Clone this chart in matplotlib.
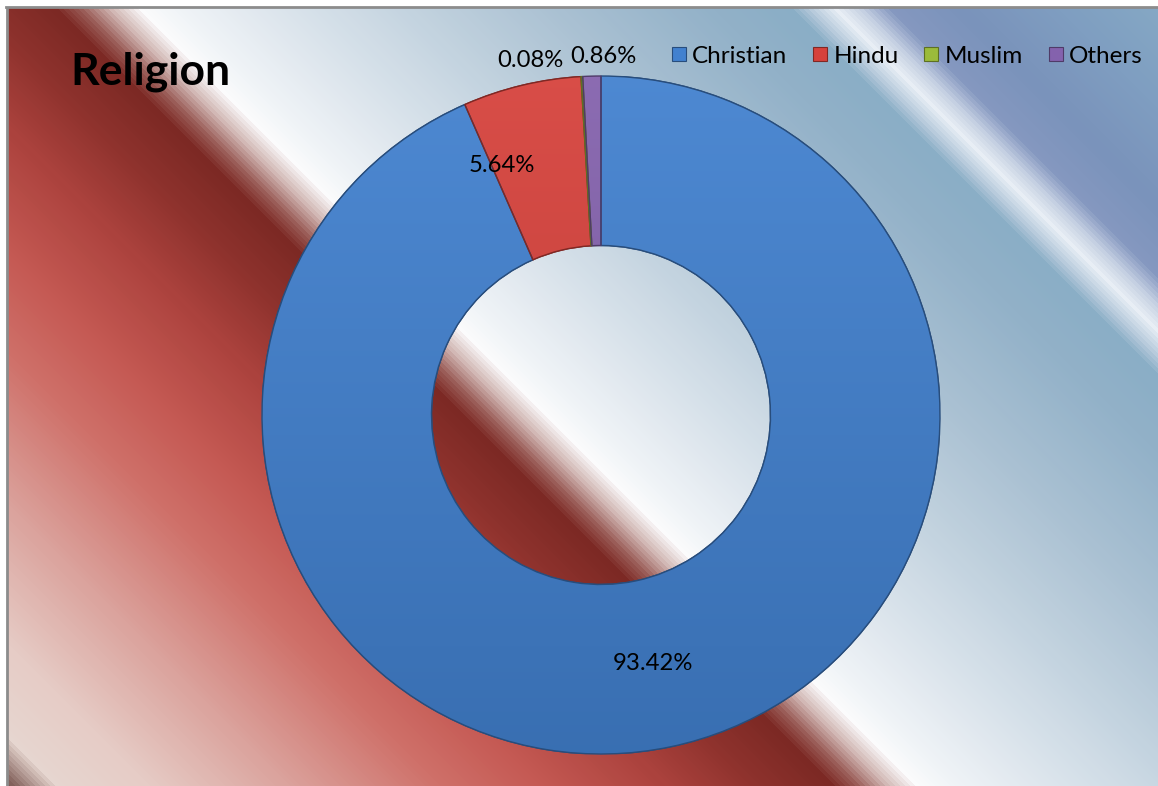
import numpy as np
import matplotlib
matplotlib.use("Agg")
import matplotlib.pyplot as plt
from matplotlib.colors import to_rgb
from matplotlib.lines import Line2D
from matplotlib.patches import Wedge

# ---- data ----
categories = ["Christian", "Hindu", "Muslim", "Others"]
values = [93.42, 5.64, 0.08, 0.86]
labels = ["93.42%", "5.64%", "0.08%", "0.86%"]
colors = ["#4281cf", "#d6423c", "#9bbb3b", "#8462ad"]
title = "Religion"

W, H = 1158, 786
fig = plt.figure(figsize=(W / 100, H / 100), dpi=100)
fig.patch.set_facecolor("white")

# ---- background gradient (diagonal bands) ----
bx0, by0 = 8, 8
bg_ax = fig.add_axes([bx0 / W, 0, (W - bx0) / W, (H - by0) / H])
bg_ax.set_axis_off()
xs = np.arange(bx0, W) + 0.5
ys = np.arange(by0, H) + 0.5
X, Y = np.meshgrid(xs, ys)
S = X - Y
S = np.floor(S / 5.0) * 5.0
stops = [
    (-800, "#5a3632"), (-770, "#8a6a64"), (-730, "#e6d6d0"), (-640, "#e6ccc6"),
    (-500, "#dba39d"), (-350, "#cf716a"), (-250, "#c55a54"), (-120, "#ab423d"),
    (-30, "#8e322d"), (45, "#7c2924"), (70, "#9a5c57"), (100, "#d2b8b5"),
    (130, "#fbfbfc"), (160, "#f2f5f8"), (250, "#dfe7ee"), (400, "#c3d3df"),
    (550, "#a9c0d2"), (700, "#92b1c8"), (780, "#8aaec6"), (800, "#b8cbdc"),
    (825, "#e8eef5"), (850, "#c5d0e2"), (880, "#8598c0"), (950, "#7a93bb"),
    (1050, "#7f9ec1"), (1160, "#86a9c5"),
]
sp = np.array([s for s, _ in stops], dtype=float)
cp = np.array([to_rgb(c) for _, c in stops])
img = np.zeros(S.shape + (3,))
for k in range(3):
    img[..., k] = np.interp(S, sp, cp[:, k])
bg_ax.imshow(img, extent=[0, 1, 0, 1], transform=bg_ax.transAxes,
             aspect="auto", interpolation="nearest")
# frame lines
fig.add_artist(Line2D([bx0 / W - 0.0009, bx0 / W - 0.0009], [0, 1 - by0 / H],
                      color="#8c8c8c", lw=2.0, transform=fig.transFigure))
fig.add_artist(Line2D([bx0 / W - 0.0017, 1], [1 - by0 / H + 0.0013, 1 - by0 / H + 0.0013],
                      color="#8c8c8c", lw=2.0, transform=fig.transFigure))

# ---- donut ----
cx, cy, R = 601, 415, 339
ax = fig.add_axes([(cx - R) / W, (H - cy - R) / H, 2 * R / W, 2 * R / H])
ax.set_axis_off()
ax.patch.set_alpha(0)

wedges, _ = ax.pie(values, colors=colors, startangle=90, counterclock=False,
                   radius=1.0, wedgeprops=dict(width=0.5, linewidth=1.0))
ax.set_aspect("auto")


def shade(c, f):
    r, g, b = to_rgb(c)
    if f >= 0:
        return (r + (1 - r) * f, g + (1 - g) * f, b + (1 - b) * f)
    return (r * (1 + f), g * (1 + f), b * (1 + f))


for w, c in zip(wedges, colors):
    w.set_edgecolor(shade(c, -0.4))
    grad = np.linspace(0, 1, 256)[:, None]
    top = np.array(shade(c, 0.06))
    bot = np.array(shade(c, -0.14))
    gimg = top[None, None, :] * (1 - grad[..., None]) + bot[None, None, :] * grad[..., None]
    gimg = np.repeat(gimg, 2, axis=1)
    im = ax.imshow(gimg, extent=[-1, 1, -1, 1], aspect="auto", zorder=w.get_zorder() + 0.1,
                   interpolation="bilinear")
    im.set_clip_path(w)
    ax.add_patch(Wedge(w.center, w.r, w.theta1, w.theta2, width=w.width,
                       facecolor="none", edgecolor=shade(c, -0.4),
                       linewidth=1.0, zorder=w.get_zorder() + 0.2))
ax.set_xlim(-1, 1)
ax.set_ylim(-1, 1)

font = "Lato"
lab_pos = {
    0: None,
    1: (-0.292, 0.737),
    2: (-0.209, 1.045),
    3: (0.006, 1.058),
}
for i, (w, t) in enumerate(zip(wedges, labels)):
    if lab_pos[i] is None:
        ang = np.deg2rad((w.theta1 + w.theta2) / 2)
        pos = (0.75 * np.cos(ang), 0.75 * np.sin(ang))
    else:
        pos = lab_pos[i]
    ax.text(pos[0], pos[1], t, ha="center", va="center", fontsize=17.2,
            family=font, color="black", zorder=10, clip_on=False)

# ---- title ----
fig.text(70 / W, 1 - 85 / H, title, ha="left", va="baseline", fontsize=32,
         fontweight="bold", family=font, color="black")

# ---- legend ----
handles = [Line2D([], [], marker="s", linestyle="none", markersize=10.5,
                  markerfacecolor=c, markeredgecolor=shade(c, -0.4), markeredgewidth=0.8)
           for c in colors]
leg = fig.legend(handles, categories, loc="center right", ncol=4,
                 bbox_to_anchor=(1143 / W, 1 - 56 / H), frameon=False,
                 prop=dict(family=font, size=17.5), handlelength=0.6,
                 handletextpad=0.25, columnspacing=1.05, borderaxespad=0,
                 borderpad=0)

fig.savefig("out.png", dpi=100)
